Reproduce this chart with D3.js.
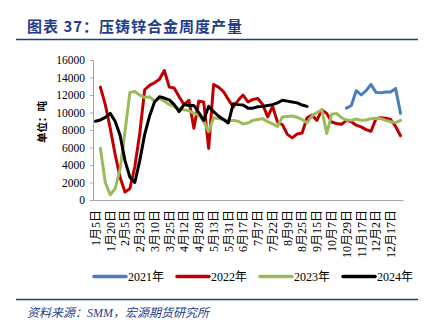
<!DOCTYPE html>
<html>
<head>
<meta charset="utf-8">
<script src="https://cdn.jsdelivr.net/npm/d3@7"></script>
<style>
  html, body { margin: 0; padding: 0; background: #fff; }
  svg { display: block; }
</style>
</head>
<body>
<svg id="chart" width="436" height="328"></svg>
<script>
// Weekly die-casting zinc alloy output (tonnes), one array per year.
// The category axis has 63 weekly slots; every third slot carries a date label.
const slotCount = 63;
const labelStep = 3;
const dateLabels = ["1月5日", "1月20日", "2月5日", "2月23日", "3月10日", "3月25日", "4月12日",
  "4月28日", "5月13日", "5月31日", "6月17日", "7月7日", "7月22日", "8月9日", "8月25日",
  "9月15日", "10月7日", "10月29日", "11月17日", "12月2日", "12月17日"];
const yTicks = [0, 2000, 4000, 6000, 8000, 10000, 12000, 14000, 16000];

const seriesNames = ["2021年", "2022年", "2023年", "2024年"];
const seriesColors = ["#4a7ebb", "#c00000", "#9bbb59", "#000000"];
const seriesStart = [51, 1, 1, 0];

const values2021 = [10500, 10800, 12500, 12000, 12500, 13200, 12300, 12250, 12350, 12350, 12750, 9900];
const values2022 = [12900, 10900, 8200, 5200, 2600, 900, 1300, 3800, 7600, 12600,
  13100, 13400, 13800, 14800, 12900, 12800, 11800, 10900, 11400, 8200,
  11300, 11200, 5900, 13200, 12900, 12400, 11500, 10600, 11400, 12000,
  11200, 11500, 11600, 10900, 9500, 10700, 8900, 8600, 7500, 7100,
  7550, 7650, 9400, 9700, 9100, 10300, 9900, 8900, 8750, 8650,
  9100, 8950, 8550, 8350, 8050, 7850, 9300, 9400, 9350, 9200, 8400, 7350];
const values2023 = [5900, 2000, 600, 1300, 3500, 7800, 12300, 12400, 12000, 11700,
  11800, 11300, 11600, 11300, 10900, 10700, 10400, 10300, 10200, 9900,
  9700, 9000, 7800, 9400, 9300, 9200, 9100, 9100, 9000, 8700,
  8800, 9100, 9200, 9300, 8950, 8700, 8400, 9500, 9550, 9600,
  9450, 9200, 8800, 9600, 10000, 10300, 7600, 9800, 9900, 9400,
  9150, 9100, 9250, 9100, 9150, 9300, 9350, 9300, 9100, 8950, 8850, 9100];
const values2024 = [9000, 9150, 9450, 9900, 9000, 7400, 4500, 2600, 2000, 4500,
  7500, 9600, 11200, 11800, 11650, 11450, 10900, 10100, 10900, 10800,
  10800, 10000, 9100, 10700, 10100, 9600, 9200, 8800, 11000, 10900,
  10850, 10500, 10500, 10650, 10700, 10800, 10900, 11100, 11400, 11300,
  11200, 11100, 10850, 10700];
const seriesValues = [values2021, values2022, values2023, values2024];

const svg = d3.select("#chart");
const navy = "#1f3d8a";
const serif = "'Liberation Serif', 'Times New Roman', 'Noto Sans CJK SC', serif";
const cjk = "'Noto Sans CJK SC', sans-serif";

// Header
svg.append("text")
  .attr("x", 27).attr("y", 32)
  .attr("font-family", cjk).attr("font-weight", 700)
  .attr("font-size", 15).attr("letter-spacing", 1)
  .attr("fill", navy)
  .text("图表 37：压铸锌合金周度产量");
svg.append("line")
  .attr("x1", 16).attr("x2", 418).attr("y1", 39.5).attr("y2", 39.5)
  .attr("stroke", navy).attr("stroke-width", 1.5);

// Scales
const plot = { left: 93, right: 403, top: 60, bottom: 200 };
const x = d3.scaleBand().domain(d3.range(slotCount)).range([plot.left, plot.right]);
const cx = i => x(i) + x.bandwidth() / 2;
const y = d3.scaleLinear().domain([0, 16000]).range([plot.bottom, plot.top]);

// Y axis
const yAxis = svg.append("g")
  .attr("transform", `translate(${plot.left},0)`)
  .call(d3.axisLeft(y).tickValues(yTicks).tickFormat(d3.format("d"))
    .tickSize(3).tickPadding(5).tickSizeOuter(0));
yAxis.select(".domain").attr("stroke", "#a6a6a6");
yAxis.selectAll(".tick line").attr("stroke", "#a6a6a6");
yAxis.selectAll(".tick text")
  .attr("font-family", serif).attr("font-size", 11.5).attr("fill", "#000");

// X axis
const labelSlots = dateLabels.map((_, k) => k * labelStep);
const xAxis = svg.append("g")
  .attr("transform", `translate(0,${plot.bottom})`)
  .call(d3.axisBottom(x).tickValues(labelSlots).tickSize(0).tickSizeOuter(0)
    .tickFormat(s => dateLabels[s / labelStep]));
xAxis.select(".domain").attr("stroke", "#a6a6a6");
xAxis.selectAll(".tick text")
  .attr("font-family", serif).attr("font-size", 12).attr("fill", "#000")
  .attr("text-anchor", "end")
  .attr("transform", "rotate(-90)")
  .attr("x", -10).attr("y", 0).attr("dy", "0.36em");

// Unit label
svg.append("text")
  .attr("transform", "translate(46,122) rotate(-90)")
  .attr("text-anchor", "middle")
  .attr("font-family", cjk).attr("font-weight", 700).attr("font-size", 10.5)
  .attr("fill", "#000")
  .text("单位：吨");

// Lines
const line = d3.line()
  .x(d => cx(d.slot))
  .y(d => y(d.value));
seriesValues.forEach((vals, s) => {
  const pts = vals.map((v, i) => ({ slot: seriesStart[s] + i, value: v }));
  svg.append("path")
    .datum(pts)
    .attr("d", line)
    .attr("fill", "none")
    .attr("stroke", seriesColors[s])
    .attr("stroke-width", 3)
    .attr("stroke-linejoin", "round")
    .attr("stroke-linecap", "round");
});

// Legend
const legendX = [93, 176, 259, 342];
const legend = svg.append("g");
seriesNames.forEach((name, s) => {
  const g = legend.append("g").attr("transform", `translate(${legendX[s]},276.5)`);
  g.append("line")
    .attr("x1", 1).attr("x2", 33).attr("y1", 0).attr("y2", 0)
    .attr("stroke", seriesColors[s]).attr("stroke-width", 3.5)
    .attr("stroke-linecap", "round");
  g.append("text")
    .attr("x", 35).attr("y", 4.2)
    .attr("font-family", serif).attr("font-size", 12).attr("fill", "#000")
    .text(name);
});

// Footer
svg.append("line")
  .attr("x1", 16).attr("x2", 418).attr("y1", 299.5).attr("y2", 299.5)
  .attr("stroke", navy).attr("stroke-width", 1.5);
svg.append("text")
  .attr("x", 27).attr("y", 317)
  .attr("font-family", serif).attr("font-style", "italic")
  .attr("font-size", 12).attr("fill", navy)
  .text("资料来源：SMM，宏源期货研究所");
</script>
</body>
</html>
